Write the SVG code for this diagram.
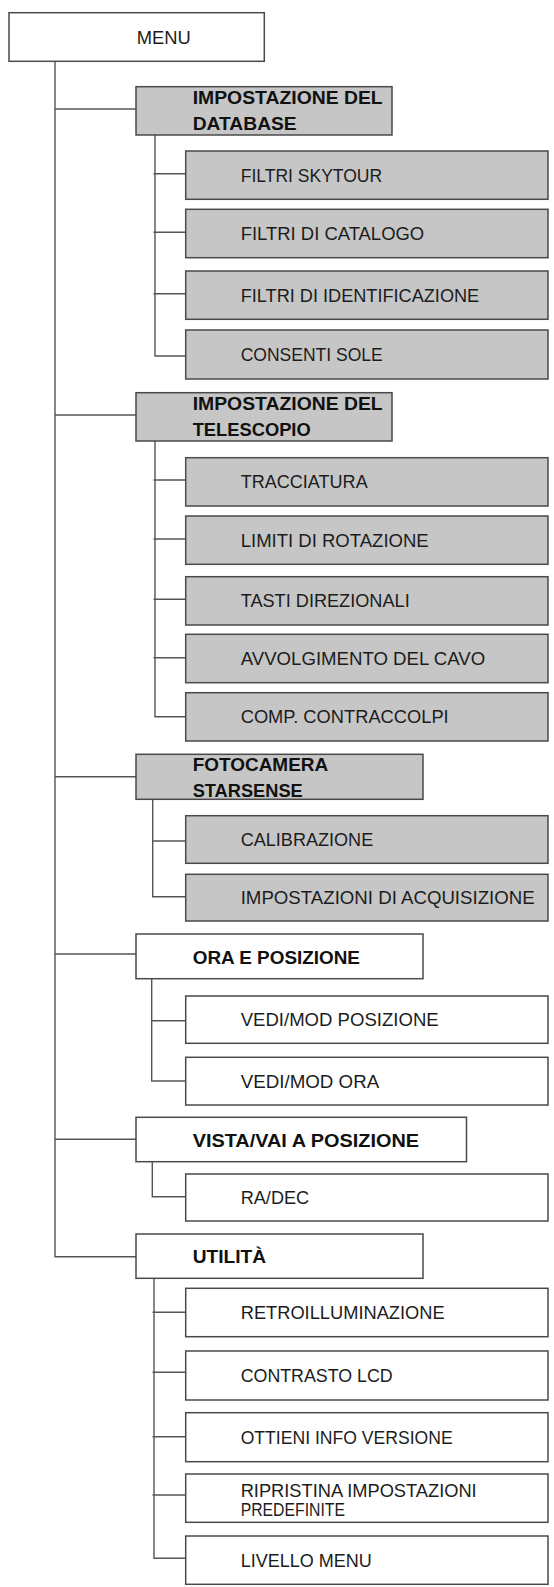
<svg xmlns="http://www.w3.org/2000/svg" width="554" height="1587" viewBox="0 0 554 1587">
<style>
  .bg{fill:#ffffff}
  .box{stroke:#4a4a4a;stroke-width:1.5}
  .g{fill:#c6c6c6}
  .w{fill:#ffffff}
  .t{font-family:"Liberation Sans",Arial,sans-serif;font-size:18px;fill:#1c1c1c}
  .b{font-family:"Liberation Sans",Arial,sans-serif;font-size:19px;font-weight:bold;fill:#111111}
  .c{fill:none;stroke:#555555;stroke-width:1.4}
</style>
<rect class="bg" x="0" y="0" width="554" height="1587"/>

<g id="connectors">
  <path class="c" d="M55 61.3 V1256.7 H136 M55 109 H136 M55 415 H136 M55 776.7 H136 M55 954 H136 M55 1139.3 H136"/>
  <path class="c" d="M155 135 V356 H185.7 M153.5 173.7 H185.7 M153.5 232.3 H185.7 M153.5 293.7 H185.7"/>
  <path class="c" d="M155 441 V716.7 H185.7 M153.5 480 H185.7 M153.5 539 H185.7 M153.5 599.3 H185.7 M153.5 657.7 H185.7"/>
  <path class="c" d="M152.7 799.3 V896.7 H185.7 M152.7 841 H185.7"/>
  <path class="c" d="M151.7 978.7 V1081 H185.7 M151.7 1020.7 H185.7"/>
  <path class="c" d="M152.3 1161.7 V1196.7 H185.7"/>
  <path class="c" d="M154 1278.3 V1558.3 H185.7 M152.5 1312.3 H185.7 M152.5 1372.3 H185.7 M152.5 1436.7 H185.7 M152.5 1495 H185.7"/>
</g>

<g id="menu">
  <rect class="box w" x="9" y="12.7" width="255.3" height="48.6"/>
  <text class="t" x="136.7" y="44.3" textLength="54" lengthAdjust="spacingAndGlyphs">MENU</text>
</g>

<g id="db">
  <rect class="box g" x="136" y="86.7" width="256" height="48.3"/>
  <text class="b" x="192.7" y="104.3" textLength="190" lengthAdjust="spacingAndGlyphs">IMPOSTAZIONE DEL</text>
  <text class="b" x="192.7" y="130" textLength="104" lengthAdjust="spacingAndGlyphs">DATABASE</text>
</g>
<g id="db-skytour">
  <rect class="box g" x="185.7" y="151" width="362.3" height="48.3"/>
  <text class="t" x="240.7" y="181.7" textLength="141.5" lengthAdjust="spacingAndGlyphs">FILTRI SKYTOUR</text>
</g>
<g id="db-catalogo">
  <rect class="box g" x="185.7" y="209.3" width="362.3" height="48.4"/>
  <text class="t" x="240.7" y="240" textLength="183.5" lengthAdjust="spacingAndGlyphs">FILTRI DI CATALOGO</text>
</g>
<g id="db-ident">
  <rect class="box g" x="185.7" y="271" width="362.3" height="48.3"/>
  <text class="t" x="240.7" y="301.7" textLength="238.5" lengthAdjust="spacingAndGlyphs">FILTRI DI IDENTIFICAZIONE</text>
</g>
<g id="db-sole">
  <rect class="box g" x="185.7" y="330" width="362.3" height="49"/>
  <text class="t" x="240.7" y="361" textLength="142" lengthAdjust="spacingAndGlyphs">CONSENTI SOLE</text>
</g>

<g id="tel">
  <rect class="box g" x="136" y="392.7" width="256" height="48.3"/>
  <text class="b" x="192.7" y="410.3" textLength="190" lengthAdjust="spacingAndGlyphs">IMPOSTAZIONE DEL</text>
  <text class="b" x="192.7" y="436" textLength="118" lengthAdjust="spacingAndGlyphs">TELESCOPIO</text>
</g>
<g id="tel-tracciatura">
  <rect class="box g" x="185.7" y="457.7" width="362.3" height="48.3"/>
  <text class="t" x="240.7" y="488.4" textLength="127" lengthAdjust="spacingAndGlyphs">TRACCIATURA</text>
</g>
<g id="tel-limiti">
  <rect class="box g" x="185.7" y="516" width="362.3" height="48.3"/>
  <text class="t" x="240.7" y="546.7" textLength="188" lengthAdjust="spacingAndGlyphs">LIMITI DI ROTAZIONE</text>
</g>
<g id="tel-tasti">
  <rect class="box g" x="185.7" y="576.7" width="362.3" height="48.3"/>
  <text class="t" x="240.7" y="607.4" textLength="169" lengthAdjust="spacingAndGlyphs">TASTI DIREZIONALI</text>
</g>
<g id="tel-cavo">
  <rect class="box g" x="185.7" y="634.3" width="362.3" height="48.4"/>
  <text class="t" x="240.7" y="665" textLength="244.5" lengthAdjust="spacingAndGlyphs">AVVOLGIMENTO DEL CAVO</text>
</g>
<g id="tel-comp">
  <rect class="box g" x="185.7" y="692.7" width="362.3" height="48.3"/>
  <text class="t" x="240.7" y="723.4" textLength="208" lengthAdjust="spacingAndGlyphs">COMP. CONTRACCOLPI</text>
</g>

<g id="cam">
  <rect class="box g" x="136" y="754.3" width="287" height="45"/>
  <text class="b" x="192.7" y="771" textLength="135.5" lengthAdjust="spacingAndGlyphs">FOTOCAMERA</text>
  <text class="b" x="192.7" y="796.7" textLength="110" lengthAdjust="spacingAndGlyphs">STARSENSE</text>
</g>
<g id="cam-calib">
  <rect class="box g" x="185.7" y="815.7" width="362.3" height="47.6"/>
  <text class="t" x="240.7" y="846" textLength="132.5" lengthAdjust="spacingAndGlyphs">CALIBRAZIONE</text>
</g>
<g id="cam-acq">
  <rect class="box g" x="185.7" y="874.3" width="362.3" height="46.7"/>
  <text class="t" x="240.7" y="904.2" textLength="294" lengthAdjust="spacingAndGlyphs">IMPOSTAZIONI DI ACQUISIZIONE</text>
</g>

<g id="ora">
  <rect class="box w" x="136" y="934" width="287" height="44.7"/>
  <text class="b" x="192.7" y="964" textLength="167.3" lengthAdjust="spacingAndGlyphs">ORA E POSIZIONE</text>
</g>
<g id="ora-pos">
  <rect class="box w" x="185.7" y="996" width="362.3" height="47.3"/>
  <text class="t" x="240.7" y="1026.2" textLength="198" lengthAdjust="spacingAndGlyphs">VEDI/MOD POSIZIONE</text>
</g>
<g id="ora-ora">
  <rect class="box w" x="185.7" y="1057.3" width="362.3" height="47.7"/>
  <text class="t" x="240.7" y="1087.7" textLength="138.5" lengthAdjust="spacingAndGlyphs">VEDI/MOD ORA</text>
</g>

<g id="vista">
  <rect class="box w" x="136" y="1117.3" width="330.5" height="44.4"/>
  <text class="b" x="192.7" y="1146.7" textLength="226.3" lengthAdjust="spacingAndGlyphs">VISTA/VAI A POSIZIONE</text>
</g>
<g id="vista-radec">
  <rect class="box w" x="185.7" y="1174" width="362.3" height="47"/>
  <text class="t" x="240.7" y="1204" textLength="68.5" lengthAdjust="spacingAndGlyphs">RA/DEC</text>
</g>

<g id="util">
  <rect class="box w" x="136" y="1234" width="287" height="44.3"/>
  <text class="b" x="192.7" y="1263.3" textLength="73.3" lengthAdjust="spacingAndGlyphs">UTILITÀ</text>
</g>
<g id="util-retro">
  <rect class="box w" x="185.7" y="1288.3" width="362.3" height="48.4"/>
  <text class="t" x="240.7" y="1319" textLength="204" lengthAdjust="spacingAndGlyphs">RETROILLUMINAZIONE</text>
</g>
<g id="util-lcd">
  <rect class="box w" x="185.7" y="1351" width="362.3" height="49"/>
  <text class="t" x="240.7" y="1381.7" textLength="152" lengthAdjust="spacingAndGlyphs">CONTRASTO LCD</text>
</g>
<g id="util-info">
  <rect class="box w" x="185.7" y="1412.7" width="362.3" height="49"/>
  <text class="t" x="240.7" y="1444" textLength="212" lengthAdjust="spacingAndGlyphs">OTTIENI INFO VERSIONE</text>
</g>
<g id="util-ripristina">
  <rect class="box w" x="185.7" y="1474" width="362.3" height="48.3"/>
  <text class="t" x="240.7" y="1496.7" textLength="236" lengthAdjust="spacingAndGlyphs">RIPRISTINA IMPOSTAZIONI</text>
  <text class="t" x="240.7" y="1515.7" textLength="104.3" lengthAdjust="spacingAndGlyphs">PREDEFINITE</text>
</g>
<g id="util-livello">
  <rect class="box w" x="185.7" y="1536" width="362.3" height="48.3"/>
  <text class="t" x="240.7" y="1566.7" textLength="131" lengthAdjust="spacingAndGlyphs">LIVELLO MENU</text>
</g>
</svg>
